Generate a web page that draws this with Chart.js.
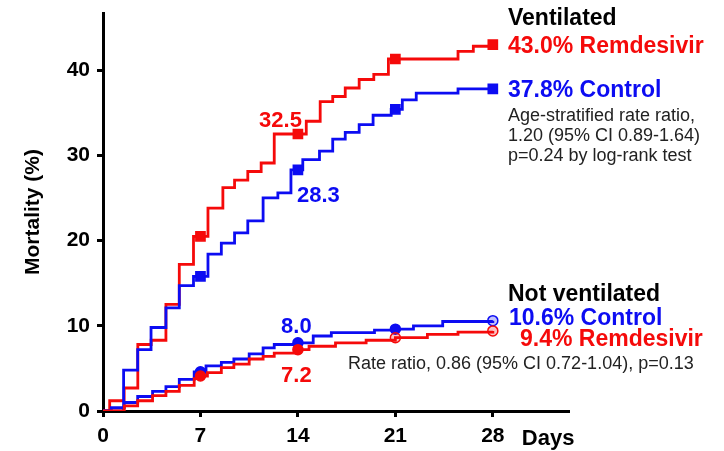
<!DOCTYPE html>
<html>
<head>
<meta charset="utf-8">
<script src="https://cdn.jsdelivr.net/npm/chart.js@4.4.1/dist/chart.umd.min.js"></script>
<style>
  html, body { margin: 0; padding: 0; background: #fff; }
  canvas { display: block; }
</style>
</head>
<body>
<canvas id="km" width="724" height="451"></canvas>
<script>
// Axis ticks
const xTicks = [0, 7, 14, 21, 28];
const yTicks = [0, 10, 20, 30, 40];
const markerDays = [7, 14, 21, 28];

// Ventilated, remdesivir: cumulative mortality (%) by day
const ventRemDays = [0, 0.48, 1.52, 2.5, 3.46, 4.52, 5.48, 6.5, 7, 7.54, 8.61, 9.45, 10.4, 11.36, 12.3, 14, 14.6, 15.6, 16.5, 17.4, 18.4, 19.45, 20.5, 21, 25.5, 26.6, 28];
const ventRemPct  = [0, 1.2, 2.7, 7.8, 8.3, 12.5, 17.2, 20.5, 20.5, 23.8, 26.2, 27.1, 28.1, 29.1, 32.5, 32.5, 34.0, 36.3, 36.9, 37.9, 38.9, 39.5, 41.3, 41.3, 42.2, 42.8, 43.0];

// Ventilated, control
const ventCtlDays = [0, 1.48, 2.49, 3.45, 4.52, 5.48, 6.5, 7, 7.54, 8.5, 9.45, 10.4, 11.5, 12.56, 13.5, 14, 14.35, 15.55, 16.5, 17.4, 18.4, 19.4, 20.7, 21, 21.5, 22.5, 25.5, 28];
const ventCtlPct  = [0, 4.8, 7.2, 9.8, 12.1, 14.7, 15.8, 15.8, 18.4, 19.7, 20.9, 22.3, 25.0, 25.6, 28.3, 28.3, 29.5, 30.5, 31.9, 32.7, 33.6, 34.7, 35.4, 35.4, 36.5, 37.3, 37.8, 37.8];

// Not ventilated, control
const nonvCtlDays = [0, 0.6, 1.53, 2.49, 3.56, 4.52, 5.48, 6.55, 7, 7.4, 8.5, 9.4, 10.5, 11.5, 12.3, 14, 15.1, 16.4, 19.5, 21, 22.3, 24.4, 28];
const nonvCtlPct  = [0, 0.4, 1.0, 1.7, 2.3, 2.85, 3.7, 4.6, 4.6, 5.3, 5.7, 6.1, 6.7, 7.4, 7.8, 8.0, 8.8, 9.2, 9.5, 9.6, 10.0, 10.5, 10.6];

// Not ventilated, remdesivir
const nonvRemDays = [0, 1.53, 2.49, 3.56, 4.52, 5.48, 6.55, 7, 7.5, 8.5, 9.4, 10.5, 11.5, 12.3, 14, 14.8, 16.7, 18.9, 21, 23.3, 25.5, 28];
const nonvRemPct  = [0, 0.6, 1.2, 1.8, 2.3, 3.0, 3.8, 4.1, 4.5, 5.1, 5.5, 6.1, 6.4, 6.8, 7.2, 7.6, 8.0, 8.3, 8.6, 9.0, 9.25, 9.4];

const RED = '#f50a0a';
const BLUE = '#0c0cf2';
const FONT = '"Liberation Sans", Arial, Helvetica, sans-serif';

const toPoints = (days, pct) => days.map((d, i) => ({ x: d, y: pct[i] }));
const valueAt = (days, pct, day) => pct[days.indexOf(day)];

function markerRadius(r) {
  return ctx => (ctx.raw && markerDays.includes(ctx.raw.x)) ? r : 0;
}
function markerFill(color, openDays, openColor) {
  return ctx => (ctx.raw && openDays.includes(ctx.raw.x)) ? openColor : color;
}

// Each event raises the curve at its own day: vertical rise, then flat until the next event
function series(days, pct, color, style, radius, openDays, openColor) {
  return {
    data: toPoints(days, pct),
    borderColor: color,
    borderWidth: 2.8,
    stepped: 'before',
    fill: false,
    pointStyle: style,
    pointRadius: markerRadius(radius),
    pointHoverRadius: markerRadius(radius),
    pointBackgroundColor: markerFill(color, openDays, openColor),
    pointBorderColor: color,
    pointBorderWidth: 1.5
  };
}

// Side notes, value call-outs and the "Days" axis word
const notes = {
  id: 'notes',
  afterDraw(chart) {
    const { ctx, scales } = chart;
    const xs = scales.x, ys = scales.y;
    const put = (text, x, y, color, font, align) => {
      ctx.save();
      ctx.fillStyle = color;
      ctx.font = font;
      ctx.textAlign = align || 'left';
      ctx.textBaseline = 'alphabetic';
      ctx.fillText(text, x, y);
      ctx.restore();
    };
    const B23 = 'bold 23px ' + FONT;
    const B22 = 'bold 22px ' + FONT;
    const R18 = '18px ' + FONT;
    const fmt = v => v.toFixed(1);

    // Ventilated block
    put('Ventilated', 508, 25, '#000', B23);
    put(fmt(valueAt(ventRemDays, ventRemPct, 28)) + '% Remdesivir', 508, 53, RED, B23);
    put(fmt(valueAt(ventCtlDays, ventCtlPct, 28)) + '% Control', 508, 97, BLUE, B23);
    put('Age-stratified rate ratio,', 508, 121, '#222', R18);
    put('1.20 (95% CI 0.89-1.64)', 508, 141, '#222', R18);
    put('p=0.24 by log-rank test', 508, 161, '#222', R18);

    // Not ventilated block
    put('Not ventilated', 508, 301, '#000', B23);
    put(fmt(valueAt(nonvCtlDays, nonvCtlPct, 28)) + '% Control', 509, 325, BLUE, B23);
    put(fmt(valueAt(nonvRemDays, nonvRemPct, 28)) + '% Remdesivir', 520, 346, RED, B23);
    put('Rate ratio, 0.86 (95% CI 0.72-1.04), p=0.13', 348, 369, '#222', R18);

    // Day-14 call-outs next to their markers
    const x14 = xs.getPixelForValue(14);
    const vr = valueAt(ventRemDays, ventRemPct, 14);
    const vc = valueAt(ventCtlDays, ventCtlPct, 14);
    const nc = valueAt(nonvCtlDays, nonvCtlPct, 14);
    const nr = valueAt(nonvRemDays, nonvRemPct, 14);
    put(fmt(vr), x14 + 4, ys.getPixelForValue(vr) - 7, RED, B22, 'right');
    put(fmt(vc), x14 - 1, ys.getPixelForValue(vc) + 32, BLUE, B22, 'left');
    put(fmt(nc), x14 - 1.5, ys.getPixelForValue(nc) - 9.5, BLUE, B22, 'center');
    put(fmt(nr), x14 - 1.5, ys.getPixelForValue(nr) + 32, RED, B22, 'center');

    // x-axis word after the last tick
    put('Days', xs.getPixelForValue(28) + 29, 445, '#000', B22);
  }
};

const axisGrid = {
  display: true,
  drawOnChartArea: false,
  drawTicks: true,
  tickLength: 6,
  tickWidth: 3,
  tickColor: '#000',
  color: '#000',
  lineWidth: 3
};

new Chart(document.getElementById('km'), {
  type: 'line',
  data: {
    datasets: [
      series(nonvRemDays, nonvRemPct, RED, 'circle', 5, [21, 28], 'rgba(245,10,10,0.25)'),
      series(nonvCtlDays, nonvCtlPct, BLUE, 'circle', 5, [28], 'rgba(12,12,242,0.25)'),
      series(ventCtlDays, ventCtlPct, BLUE, 'rect', 6.5, [], null),
      series(ventRemDays, ventRemPct, RED, 'rect', 6.5, [], null)
    ]
  },
  options: {
    responsive: false,
    animation: false,
    devicePixelRatio: 1,
    events: [],
    layout: { padding: { top: 13, right: 156, bottom: 0, left: 0 } },
    plugins: { legend: { display: false }, tooltip: { enabled: false } },
    scales: {
      x: {
        type: 'linear',
        min: 0,
        max: 33.4,
        afterBuildTicks: s => { s.ticks = xTicks.map(v => ({ value: v })); },
        afterFit: s => { s.height = 40; s.paddingLeft = 0; s.paddingRight = 0; },
        border: { display: true, color: '#000', width: 3 },
        grid: axisGrid,
        ticks: {
          color: '#000',
          padding: 7,
          maxRotation: 0,
          autoSkip: false,
          font: { family: FONT, size: 21, weight: 'bold' }
        }
      },
      y: {
        type: 'linear',
        min: 0,
        max: 46.7,
        afterBuildTicks: s => { s.ticks = yTicks.map(v => ({ value: v })); },
        afterFit: s => { s.width = 103; s.paddingTop = 0; s.paddingBottom = 0; },
        border: { display: true, color: '#000', width: 3 },
        grid: axisGrid,
        ticks: {
          color: '#000',
          padding: 7,
          font: { family: FONT, size: 21, weight: 'bold' }
        },
        title: {
          display: true,
          text: 'Mortality (%)',
          color: '#000',
          padding: { top: 21, bottom: 0 },
          font: { family: FONT, size: 21, weight: 'bold' }
        }
      }
    }
  },
  plugins: [notes]
});
</script>
</body>
</html>
